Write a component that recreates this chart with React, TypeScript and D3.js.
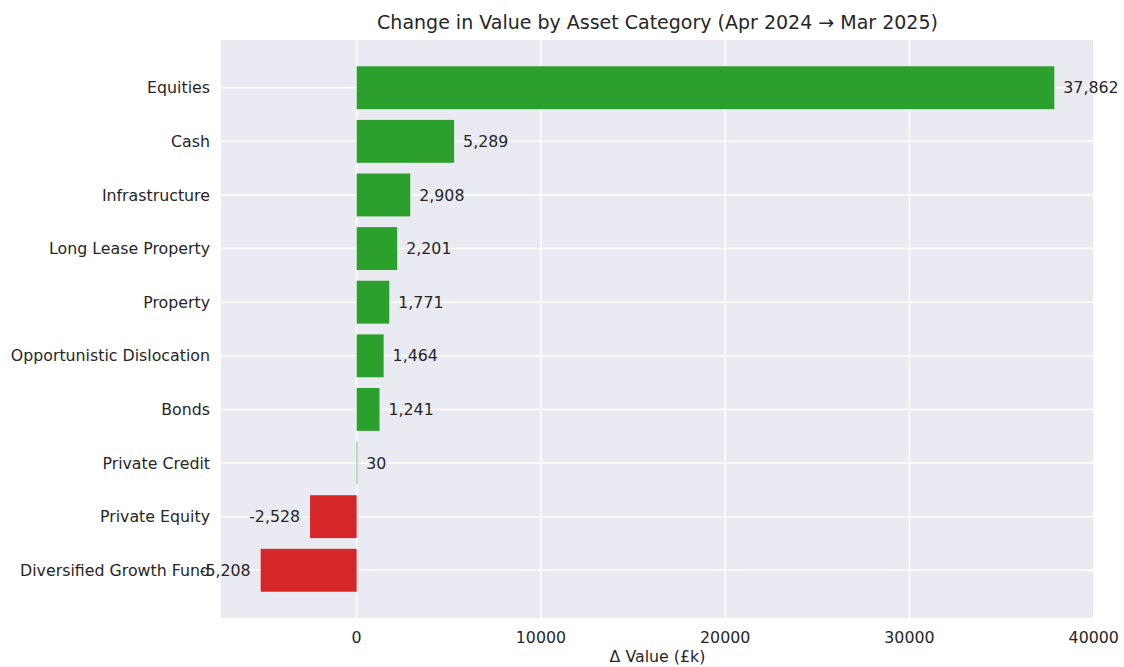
import React from "react";
import * as d3 from "d3";

const categories = [
  "Equities",
  "Cash",
  "Infrastructure",
  "Long Lease Property",
  "Property",
  "Opportunistic Dislocation",
  "Bonds",
  "Private Credit",
  "Private Equity",
  "Diversified Growth Fund",
];
const changes = [37862, 5289, 2908, 2201, 1771, 1464, 1241, 30, -2528, -5208];
const xTicks = [0, 10000, 20000, 30000, 40000];
const title = "Change in Value by Asset Category (Apr 2024 \u2192 Mar 2025)";
const xLabel = "\u0394 Value (\u00a3k)";

const W = 1124;
const H = 667;
const M = { left: 221, right: 1094, top: 40, bottom: 618 };
const FONT = "DejaVu Sans, sans-serif";
const TXT = "#262626";

export default function App() {
  const minV = d3.min(changes)!;
  const maxV = d3.max(changes)!;
  const span = maxV - minV;
  const x = d3.scaleLinear().domain([minV - span * 0.05, maxV + span * 0.05]).range([M.left, M.right]);
  const n = categories.length;
  const yspan = n - 1 + 0.8;
  const y = d3
    .scaleLinear()
    .domain([-0.4 - yspan * 0.05, n - 1 + 0.4 + yspan * 0.05])
    .range([M.top, M.bottom]);
  const bh = y(0.4) - y(-0.4);
  const fmt = (v: number) => d3.format(",")(v).replace("\u2212", "-");

  return (
    <svg width={W} height={H} style={{ position: "absolute", left: 0, top: 0, background: "#fff" }} fontFamily={FONT}>
      <rect x={M.left} y={M.top} width={M.right - M.left} height={M.bottom - M.top} fill="#eaeaf2" />
      {xTicks.map((t) => (
        <line key={"gx" + t} x1={x(t)} x2={x(t)} y1={M.top} y2={M.bottom} stroke="#fff" strokeWidth={1.5} />
      ))}
      {categories.map((c, i) => (
        <line key={"gy" + c} x1={M.left} x2={M.right} y1={y(i)} y2={y(i)} stroke="#fff" strokeWidth={1.5} />
      ))}
      {changes.map((v, i) => (
        <rect
          key={"b" + i}
          x={Math.min(x(0), x(v))}
          width={Math.max(Math.abs(x(v) - x(0)), 0.6)}
          y={y(i) - bh / 2}
          height={bh}
          fill={v >= 0 ? "#2ca02c" : "#d62728"}
        />
      ))}
      {changes.map((v, i) => (
        <text
          key={"l" + i}
          x={v >= 0 ? x(v) + 9 : x(v) - 10}
          y={y(i)}
          dy="0.36em"
          textAnchor={v >= 0 ? "start" : "end"}
          fontSize={15.8}
          fill={TXT}
        >
          {fmt(v)}
        </text>
      ))}
      {categories.map((c, i) => (
        <text key={"yl" + c} x={M.left - 11} y={y(i)} dy="0.36em" textAnchor="end" fontSize={15.8} fill={TXT}>
          {c}
        </text>
      ))}
      {xTicks.map((t) => (
        <text key={"xl" + t} x={x(t)} y={643} textAnchor="middle" fontSize={15.8} fill={TXT}>
          {String(t)}
        </text>
      ))}
      <text x={(M.left + M.right) / 2} y={662} textAnchor="middle" fontSize={15.8} fill={TXT}>
        {xLabel}
      </text>
      <text x={(M.left + M.right) / 2} y={29} textAnchor="middle" fontSize={19} fill={TXT}>
        {title}
      </text>
    </svg>
  );
}
